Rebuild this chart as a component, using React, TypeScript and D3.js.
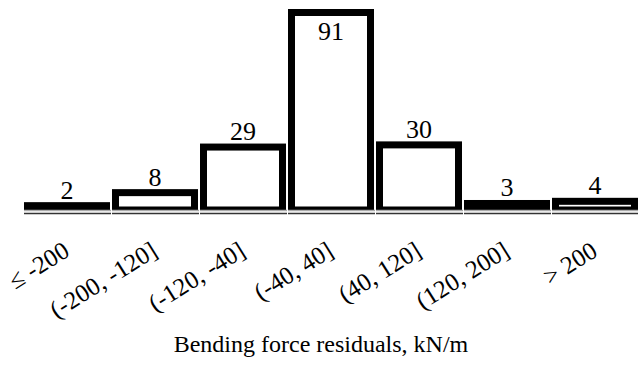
import React, { useEffect, useRef } from 'react';
import * as d3 from 'd3';

const categories = ['≤ -200', '(-200, -120]', '(-120, -40]', '(-40, 40]', '(40, 120]', '(120, 200]', '> 200'];
const counts = [2, 8, 29, 91, 30, 3, 4];
const xTitle = 'Bending force residuals, kN/m';

const W = 638;
const H = 368;
const FONT = '"Liberation Serif", "Times New Roman", serif';

export default function App() {
  const svgRef = useRef<SVGSVGElement>(null);

  useEffect(() => {
    const svg = d3.select(svgRef.current);
    svg.selectAll('*').remove();

    const x = d3.scaleBand<string>()
      .domain(categories)
      .range([24, 640])
      .paddingInner(0)
      .paddingOuter(0);

    const y = d3.scaleLinear()
      .domain([0, 91])
      .range([210, 12.5]);

    const stroke = 7;
    const gap = 2;

    const bars = svg.append('g');
    bars.selectAll('rect')
      .data(counts)
      .join('rect')
      .attr('x', (d, i) => x(categories[i])! + stroke / 2)
      .attr('y', d => y(d))
      .attr('width', x.bandwidth() - gap - stroke)
      .attr('height', d => y(0) - y(d))
      .attr('fill', '#fff')
      .attr('stroke', '#000')
      .attr('stroke-width', stroke);

    // category axis strip under the bars
    const axis = svg.append('g');
    axis.append('rect')
      .attr('x', 0).attr('y', y(0))
      .attr('width', W).attr('height', 6)
      .attr('fill', '#fff');
    categories.forEach(c => {
      const x0 = x(c)!;
      axis.append('line')
        .attr('x1', x0).attr('x2', x0 + x.bandwidth() - 1)
        .attr('y1', y(0) + 0.5).attr('y2', y(0) + 0.5)
        .attr('stroke', '#aaa').attr('stroke-width', 1.5);
      axis.append('line')
        .attr('x1', x0).attr('x2', x0 + x.bandwidth() - 1)
        .attr('y1', y(0) + 3.5).attr('y2', y(0) + 3.5)
        .attr('stroke', '#333').attr('stroke-width', 1.5);
    });

    // value labels
    svg.append('g')
      .selectAll('text')
      .data(counts)
      .join('text')
      .attr('x', (d, i) => x(categories[i])! + (x.bandwidth() - gap) / 2)
      .attr('y', d => (y(d) - 30 < 0 ? y(d) + 27 : y(d) - 7))
      .attr('text-anchor', 'middle')
      .attr('font-family', FONT)
      .attr('font-size', 26)
      .attr('fill', '#000')
      .text(d => String(d));

    // rotated tick labels
    svg.append('g')
      .selectAll('text')
      .data(categories)
      .join('text')
      .attr('transform', d => `translate(${x(d)! + x.bandwidth() / 2 + 3}, 255) rotate(-32)`)
      .attr('text-anchor', 'end')
      .attr('font-family', FONT)
      .attr('font-size', 25)
      .attr('fill', '#000')
      .text(d => d);

    svg.append('text')
      .attr('x', 321)
      .attr('y', 352)
      .attr('text-anchor', 'middle')
      .attr('font-family', FONT)
      .attr('font-size', 24)
      .attr('fill', '#000')
      .text(xTitle);
  }, []);

  return (
    <svg
      ref={svgRef}
      width={W}
      height={H}
      style={{ position: 'absolute', left: 0, top: 0, background: '#fff' }}
    />
  );
}
